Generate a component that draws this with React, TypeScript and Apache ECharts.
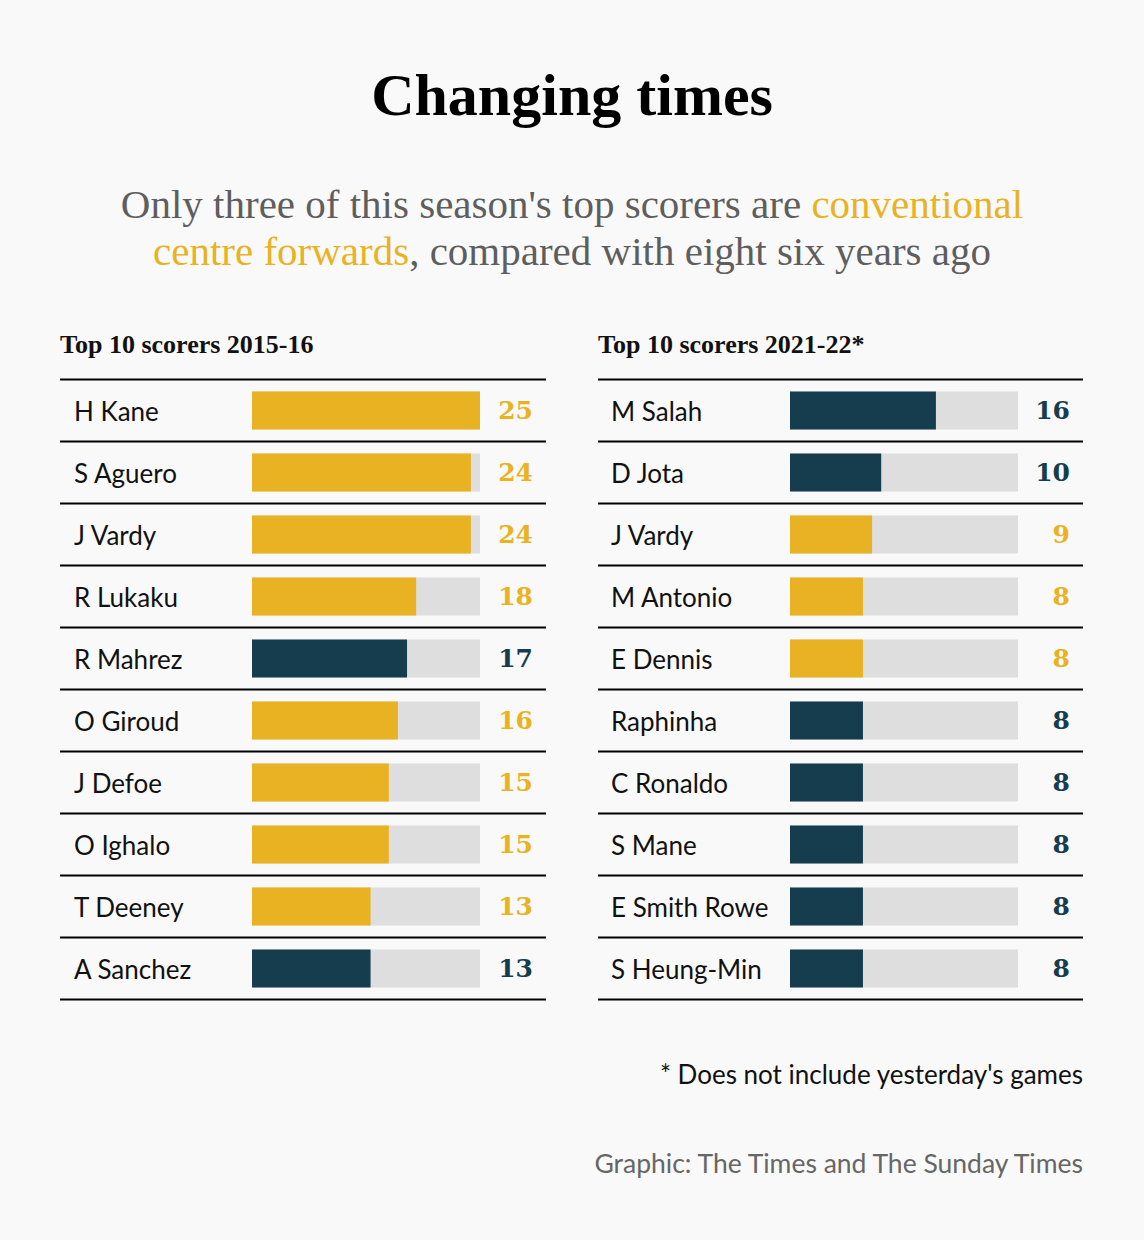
import React, { useEffect, useRef } from "react";
import * as echarts from "echarts";

const names2016 = ["H Kane", "S Aguero", "J Vardy", "R Lukaku", "R Mahrez", "O Giroud", "J Defoe", "O Ighalo", "T Deeney", "A Sanchez"];
const goals2016 = [25, 24, 24, 18, 17, 16, 15, 15, 13, 13];
const centreForward2016 = [true, true, true, true, false, true, true, true, true, false];

const names2022 = ["M Salah", "D Jota", "J Vardy", "M Antonio", "E Dennis", "Raphinha", "C Ronaldo", "S Mane", "E Smith Rowe", "S Heung-Min"];
const goals2022 = [16, 10, 9, 8, 8, 8, 8, 8, 8, 8];
const centreForward2022 = [false, false, true, true, true, false, false, false, false, false];

const GOLD = "#E9B223";
const NAVY = "#163D4E";
const TRACK = "#DEDEDE";
const BG = "#F9F9F9";

const SERIF = "'Liberation Serif', 'Times New Roman', serif";
const NUMFONT = "'DejaVu Serif', serif";
const SANS = "Lato, 'Open Sans', sans-serif";

const W = 1144;
const H = 1240;
const ROW = 62;
const GRID_TOP = 379.5;
const BAR_W = 228;
const PANELS = [
  { gridLeft: 252, lineX1: 60, lineX2: 546, nameX: 74, valueX: 533 },
  { gridLeft: 790, lineX1: 598, lineX2: 1083, nameX: 611, valueX: 1070 },
];

export default function App() {
  const ref = useRef<HTMLDivElement>(null);

  useEffect(() => {
    if (!ref.current) return;
    const chart = echarts.init(ref.current, undefined, { renderer: "svg", width: W, height: H });

    const datasets = [
      { names: names2016, goals: goals2016, cf: centreForward2016 },
      { names: names2022, goals: goals2022, cf: centreForward2022 },
    ];

    const grids: any[] = [];
    const xAxes: any[] = [];
    const yAxes: any[] = [];
    const series: any[] = [];
    const graphics: any[] = [];

    datasets.forEach((d, p) => {
      const panel = PANELS[p];
      const n = d.names.length;
      grids.push({ left: panel.gridLeft, top: GRID_TOP, width: BAR_W, height: ROW * n });
      xAxes.push({ type: "value", gridIndex: p, min: 0, max: 25, show: false });
      const colorOf = (i: number) => (d.cf[i] ? GOLD : NAVY);
      yAxes.push({
        type: "category",
        gridIndex: p,
        data: d.names,
        inverse: true,
        position: "left",
        axisLine: { show: false },
        axisTick: { show: false },
        splitLine: { show: false },
        axisLabel: {
          margin: panel.gridLeft - panel.nameX,
          align: "left",
          fontFamily: SANS,
          fontSize: 26,
          color: "#111111",
          padding: [0, 0, 6, 0],
        },
      });
      yAxes.push({
        type: "category",
        gridIndex: p,
        data: d.names,
        inverse: true,
        position: "right",
        axisLine: { show: false },
        axisTick: { show: false },
        splitLine: { show: false },
        axisLabel: {
          margin: panel.valueX - (panel.gridLeft + BAR_W),
          align: "right",
          fontFamily: NUMFONT,
          fontWeight: "bold",
          fontSize: 25,
          formatter: (_v: string, i: number) => String(d.goals[i]),
          color: (_v: string, i: number) => colorOf(i),
          padding: [0, 0, 2, 0],
        },
      });
      series.push({
        type: "bar",
        xAxisIndex: p,
        yAxisIndex: p * 2,
        barWidth: 38,
        showBackground: true,
        backgroundStyle: { color: TRACK },
        data: d.goals.map((g, i) => ({ value: g, itemStyle: { color: colorOf(i) } })),
        silent: true,
      });
      for (let i = 0; i <= n; i++) {
        graphics.push({
          type: "line",
          shape: { x1: panel.lineX1, y1: GRID_TOP + i * ROW, x2: panel.lineX2, y2: GRID_TOP + i * ROW },
          style: { stroke: "#000", lineWidth: 2 },
          silent: true,
        });
      }
    });

    graphics.push(
      {
        type: "text",
        x: W / 2,
        y: 95,
        style: {
          text: "Changing times",
          fontFamily: SERIF,
          fontWeight: "bold",
          fontSize: 60,
          fill: "#000",
          textAlign: "center",
          textVerticalAlign: "middle",
        },
      },
      {
        type: "text",
        x: W / 2,
        y: 204,
        style: {
          text: "Only three of this season's top scorers are {g|conventional}",
          fontFamily: SERIF,
          fontSize: 41,
          fill: "#5E5E5E",
          textAlign: "center",
          textVerticalAlign: "middle",
          rich: { g: { fill: GOLD, fontFamily: SERIF, fontSize: 41 } },
        },
      },
      {
        type: "text",
        x: W / 2,
        y: 251,
        style: {
          text: "{g|centre forwards}, compared with eight six years ago",
          fontFamily: SERIF,
          fontSize: 41,
          fill: "#5E5E5E",
          textAlign: "center",
          textVerticalAlign: "middle",
          rich: { g: { fill: GOLD, fontFamily: SERIF, fontSize: 41 } },
        },
      },
      {
        type: "text",
        x: 60,
        y: 344,
        style: {
          text: "Top 10 scorers 2015-16",
          fontFamily: SERIF,
          fontWeight: "bold",
          fontSize: 26,
          fill: "#111",
          textAlign: "left",
          textVerticalAlign: "middle",
        },
      },
      {
        type: "text",
        x: 598,
        y: 344,
        style: {
          text: "Top 10 scorers 2021-22*",
          fontFamily: SERIF,
          fontWeight: "bold",
          fontSize: 26,
          fill: "#111",
          textAlign: "left",
          textVerticalAlign: "middle",
        },
      },
      {
        type: "text",
        x: 1083,
        y: 1074,
        style: {
          text: "* Does not include yesterday's games",
          fontFamily: SANS,
          fontSize: 26,
          fill: "#111",
          textAlign: "right",
          textVerticalAlign: "middle",
        },
      },
      {
        type: "text",
        x: 1083,
        y: 1163,
        style: {
          text: "Graphic: The Times and The Sunday Times",
          fontFamily: SANS,
          fontSize: 26.5,
          fill: "#666666",
          textAlign: "right",
          textVerticalAlign: "middle",
        },
      }
    );

    chart.setOption({
      animation: false,
      backgroundColor: BG,
      grid: grids,
      xAxis: xAxes,
      yAxis: yAxes,
      series,
      graphic: graphics,
    });

    return () => chart.dispose();
  }, []);

  return (
    <div
      ref={ref}
      style={{ position: "absolute", left: 0, top: 0, width: W, height: H, background: BG }}
    />
  );
}
